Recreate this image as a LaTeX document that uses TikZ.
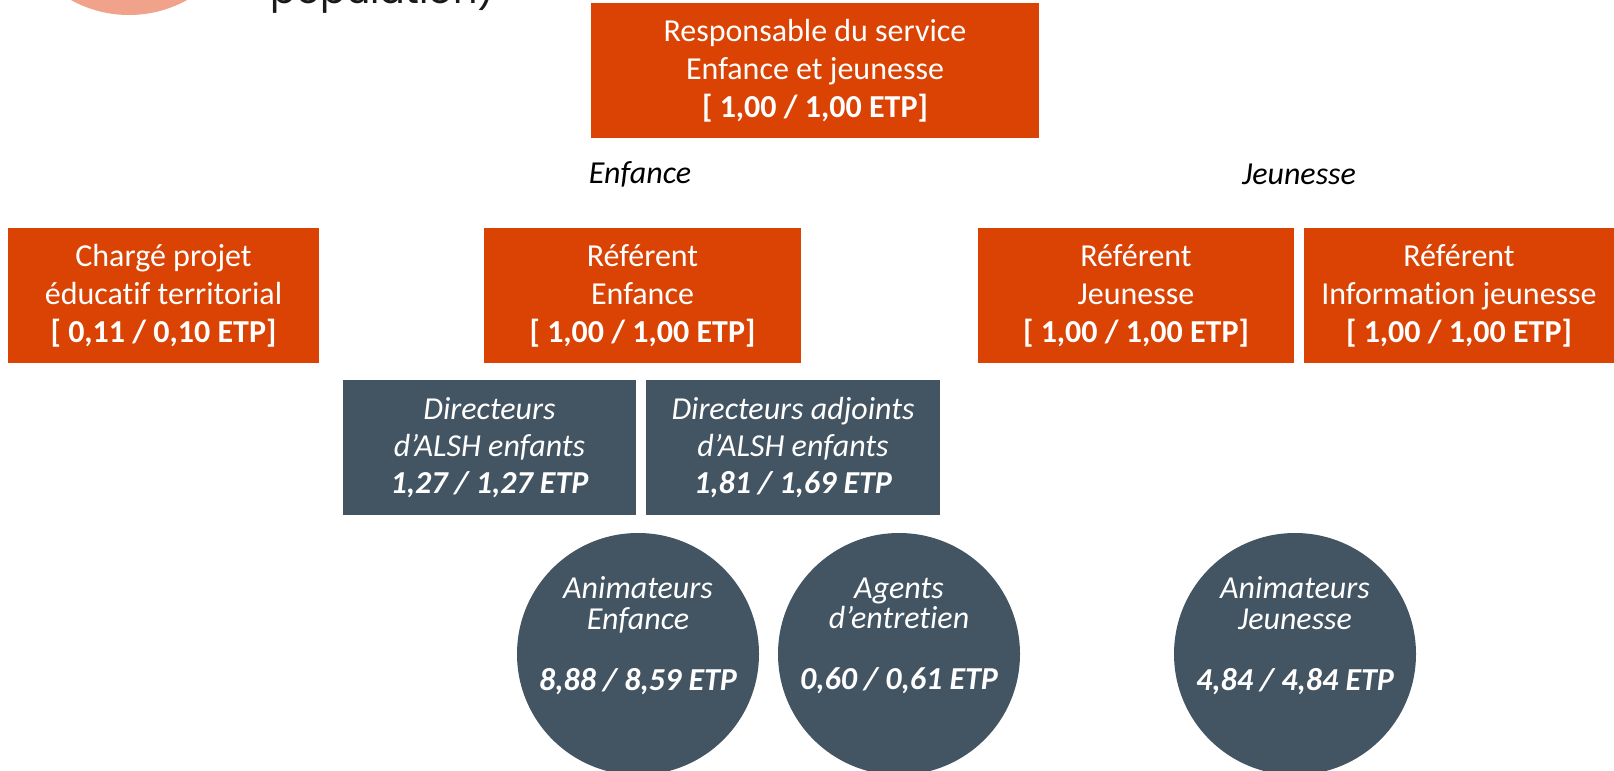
\documentclass[tikz,border=0pt]{standalone}
\usepackage{fontspec}
\setmainfont[Ligatures=NoCommon]{Carlito}
\newfontfamily\popfont{Poppins}
\definecolor{orgbox}{RGB}{218,67,4}
\definecolor{slatebox}{RGB}{67,84,98}
\definecolor{salmonlogo}{RGB}{240,162,138}
\tikzset{every picture/.style={line width=0.75pt}}
\tikzset{
  orgbox/.style={fill=orgbox, text=white, align=center, inner sep=0pt,
    minimum height=101.25pt, font=\fontsize{24}{28.5}\selectfont},
  slbox/.style={fill=slatebox, text=white, align=center, inner sep=0pt,
    minimum width=220pt, minimum height=101.25pt, font=\itshape\fontsize{24}{28}\selectfont},
  slcirc/.style={circle, fill=slatebox, text=white, align=center, inner sep=-30pt,
    minimum size=181.5pt, font=\itshape\fontsize{24}{22.9}\selectfont},
  grplabel/.style={inner sep=0.75pt, font=\itshape\fontsize{24}{28}\selectfont}
}

\begin{document}
\begin{tikzpicture}[x=0.75pt,y=0.75pt,yscale=-1,xscale=1]
\useasboundingbox (0,0) rectangle (1614,771);

%Shape: Circle (cut logo)
\node [circle, fill=salmonlogo, minimum size=180pt, inner sep=0pt] (logo) at (129,-105) {};
% Text Node
\node [anchor=base west, inner sep=0pt, text=black!90, font=\popfont\fontsize{28.5}{30}\selectfont] (pop) at (270,3) {population)};

%Shape: Rectangle
\node [orgbox, minimum width=336pt] (resp) at (815,70.5) {Responsable du service\\Enfance et jeunesse\\\textbf{[ 1,00 / 1,00 ETP]}};

% Text Node
\node [grplabel] (enf) at (640,174) {Enfance};
% Text Node
\node [grplabel] (jeu) at (1299,174) {Jeunesse};

%Shape: Rectangle
\node [orgbox, minimum width=233.25pt] (chg) at (163.5,295.5) {Chargé projet\\éducatif territorial\\\textbf{[ 0,11 / 0,10 ETP]}};
%Shape: Rectangle
\node [orgbox, minimum width=237.75pt] (refE) at (642.5,295.5) {Référent\\Enfance\\\textbf{[ 1,00 / 1,00 ETP]}};
%Shape: Rectangle
\node [orgbox, minimum width=237pt] (refJ) at (1136,295.5) {Référent\\Jeunesse\\\textbf{[ 1,00 / 1,00 ETP]}};
%Shape: Rectangle
\node [orgbox, minimum width=232.5pt] (refI) at (1459,295.5) {Référent\\Information jeunesse\\\textbf{[ 1,00 / 1,00 ETP]}};

%Shape: Rectangle
\node [slbox] (dirE) at (489.5,447.5) {Directeurs\\d’ALSH enfants\\\textbf{1,27 / 1,27 ETP}};
%Shape: Rectangle
\node [slbox] (adjE) at (793,447.5) {Directeurs adjoints\\d’ALSH enfants\\\textbf{1,81 / 1,69 ETP}};

%Shape: Circle
\node [slcirc] (animE) at (638,654) {Animateurs\\Enfance\\\mbox{}\\\textbf{8,88 / 8,59 ETP}\\[7.5pt]\mbox{}};
%Shape: Circle
\node [slcirc] (agent) at (899,654) {Agents\\d’entretien\\\mbox{}\\\textbf{0,60 / 0,61 ETP}\\[7.5pt]\mbox{}};
%Shape: Circle
\node [slcirc] (animJ) at (1295,654) {Animateurs\\Jeunesse\\\mbox{}\\\textbf{4,84 / 4,84 ETP}\\[7.5pt]\mbox{}};

\end{tikzpicture}
\end{document}
